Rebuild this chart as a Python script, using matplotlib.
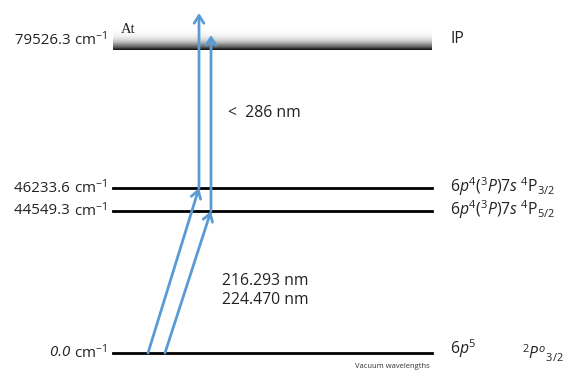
import matplotlib
matplotlib.use("Agg")
import matplotlib.pyplot as plt
import numpy as np

plt.rcParams['font.family'] = ['Open Sans', 'DejaVu Sans']
plt.rcParams['mathtext.fontset'] = 'custom'
plt.rcParams['mathtext.rm'] = 'Open Sans'
plt.rcParams['mathtext.it'] = 'Open Sans:italic'

# energy levels (cm-1) and their labels
level_energy = [0.0, 44549.3, 46233.6, 79526.3]
level_value = ["0.0", "44549.3", "46233.6", "79526.3"]
level_right = ["6$p^5$", r"6$p^4$($^3P$)7$s$ $^4$P$_{5/2}$", r"6$p^4$($^3P$)7$s$ $^4$P$_{3/2}$", "IP"]
wavelengths = ["216.293 nm", "224.470 nm"]
ionisation = "<  286 nm"

# diagram layout (pixels, not to scale)
level_y = [353, 211, 188, 48]
label_y = [353, 211, 188, 40]
x0, x1 = 113, 432
blue = "#5b9bd5"
txt = "#222222"
fs = 11.3

fig = plt.figure(figsize=(5.63, 3.73), dpi=100)
ax = fig.add_axes([0, 0, 1, 1])
ax.set_xlim(0, 563)
ax.set_ylim(373, 0)
ax.axis("off")

# ionisation band with gradient
grad = np.linspace(0, 1, 60) ** 2.2
ax.imshow(grad[:, None], cmap="Greys", vmin=0, vmax=1.05, aspect="auto",
          extent=[x0, x1, 50, 27], zorder=1)
ax.text(121, 33, "At", family="Liberation Serif", fontsize=10.5, color=txt, zorder=2)

for e, y, ly, val, rlab in zip(level_energy, level_y, label_y, level_value, level_right):
    if e < level_energy[-1]:
        ax.plot([x0, x1], [y, y], color="black", lw=2, zorder=2)
    unit = ax.text(107, ly, "cm$^{-1}$", ha="right", va="center", fontsize=fs - 0.5, color=txt)
    ax.annotate(val + " ", xy=(0, 0.5), xycoords=unit, ha="right", va="center",
                fontsize=fs - 0.5, color=txt, fontstyle="italic" if e == 0 else "normal")
    ax.text(450, ly - 1 if e > 0 else ly - 4, rlab, ha="left", va="center",
            fontsize=fs, color=txt)

ax.text(522, 353, r"$^2P^o{}_{3/2}$", ha="left", va="center", fontsize=fs, color=txt)
ax.text(430, 367, "Vacuum wavelengths", ha="right", va="center", fontsize=5.5, color="#333333")

# excitation arrows: ground -> excited -> continuum
arrow = dict(arrowstyle="->,head_length=0.55,head_width=0.35", color=blue, lw=2,
             shrinkA=0, shrinkB=0)
steps = [(148, 199, level_y[2], 13), (165, 211, level_y[1], 35)]
for xs, xe, ye, ytop in steps:
    ax.annotate("", xy=(xe, ye), xytext=(xs, level_y[0]), arrowprops=arrow, zorder=3)
    ax.annotate("", xy=(xe, ytop), xytext=(xe, ye), arrowprops=arrow, zorder=3)

ax.text(228, 113, ionisation, ha="left", va="center", fontsize=fs, color=txt)
ax.text(222, 281, wavelengths[0], ha="left", va="center", fontsize=fs, color=txt)
ax.text(222, 300, wavelengths[1], ha="left", va="center", fontsize=fs, color=txt)

fig.savefig("out.png", dpi=100)
